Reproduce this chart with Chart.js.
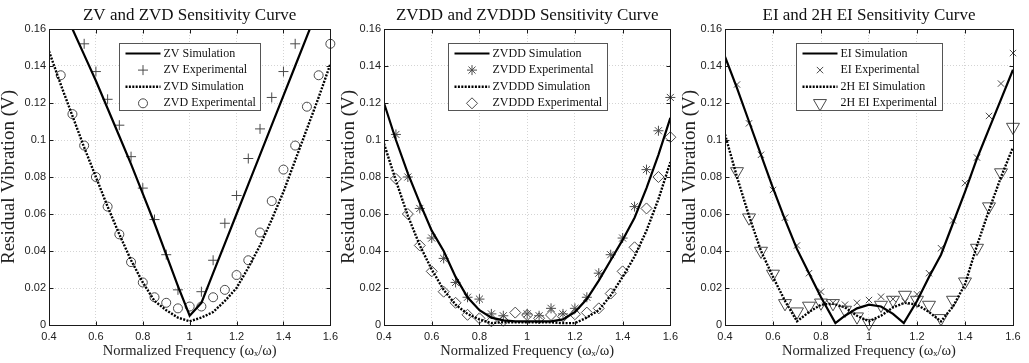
<!DOCTYPE html>
<html>
<head>
<meta charset="utf-8">
<title>Sensitivity Curves</title>
<script src="https://cdn.jsdelivr.net/npm/chart.js@4.4.0/dist/chart.umd.min.js"></script>
<style>
  html, body { margin: 0; padding: 0; background: #fff; }
  #wrap { position: relative; width: 1029px; height: 363px; overflow: hidden; }
  #wrap canvas { position: absolute; top: 0; }
</style>
</head>
<body>
<div id="wrap">
  <canvas id="c1" width="343" height="363" style="left:0px"></canvas>
  <canvas id="c2" width="343" height="363" style="left:340px"></canvas>
  <canvas id="c3" width="348" height="363" style="left:681px"></canvas>
</div>
<script>
// normalized frequency samples (omega_x / omega)
const freq = [0.40, 0.45, 0.50, 0.55, 0.60, 0.65, 0.70, 0.75, 0.80, 0.85, 0.90, 0.95, 1.00,
              1.05, 1.10, 1.15, 1.20, 1.25, 1.30, 1.35, 1.40, 1.45, 1.50, 1.55, 1.60];
// EI simulation has its two zero crossings off the 0.05 grid
const freqEI = [0.40, 0.45, 0.50, 0.55, 0.60, 0.65, 0.70, 0.75, 0.80, 0.86, 0.90, 0.95, 1.00,
                1.05, 1.10, 1.145, 1.20, 1.25, 1.30, 1.35, 1.40, 1.45, 1.50, 1.55, 1.60];

const xTicks = [0.4, 0.6, 0.8, 1.0, 1.2, 1.4, 1.6];
const yTicks = [0, 0.02, 0.04, 0.06, 0.08, 0.10, 0.12, 0.14, 0.16];

// panel 1 - ZV / ZVD
const zvSim  = [0.188, 0.174, 0.160, 0.146, 0.132, 0.117, 0.102, 0.087, 0.071, 0.055, 0.038, 0.021, 0.005,
                0.012, 0.028, 0.044, 0.060, 0.076, 0.092, 0.108, 0.124, 0.140, 0.156, 0.172, 0.188];
const zvExp  = [null, null, null, 0.152, 0.137, 0.122, 0.108, 0.091, 0.074, 0.057, 0.038, 0.019, null,
                0.018, 0.035, 0.055, 0.070, 0.090, 0.106, 0.123, 0.137, 0.152, null, null, null];
const zvdSim = [0.148, 0.130, 0.113, 0.096, 0.080, 0.064, 0.049, 0.035, 0.023, 0.013, 0.008, 0.004, 0.002,
                0.004, 0.007, 0.013, 0.020, 0.031, 0.043, 0.057, 0.072, 0.089, 0.106, 0.123, 0.141];
const zvdExp = [null, 0.135, 0.114, 0.097, 0.080, 0.064, 0.049, 0.034, 0.023, 0.015, 0.012, 0.009, 0.010,
                0.010, 0.015, 0.019, 0.027, 0.035, 0.050, 0.067, 0.084, 0.097, 0.118, 0.135, 0.152];

// panel 2 - ZVDD / ZVDDD
const zvddSim  = [0.120, 0.100, 0.082, 0.066, 0.051, 0.040, 0.026, 0.015, 0.008, 0.004, 0.0025, 0.002, 0.002,
                  0.002, 0.002, 0.003, 0.007, 0.014, 0.024, 0.035, 0.046, 0.058, 0.074, 0.092, 0.112];
const zvddExp  = [null, 0.103, 0.080, 0.063, 0.047, 0.036, 0.023, 0.015, 0.014, 0.006, 0.005, null, 0.006,
                  0.005, 0.009, 0.006, 0.009, 0.015, 0.028, 0.038, 0.047, 0.064, 0.084, 0.105, 0.123];
const zvdddSim = [0.098, 0.078, 0.059, 0.043, 0.030, 0.019, 0.011, 0.006, 0.003, 0.001, 0.0015, 0.0015, 0.0015,
                  0.0015, 0.0015, 0.001, 0.001, 0.004, 0.008, 0.016, 0.026, 0.037, 0.051, 0.068, 0.088];
const zvdddExp = [null, 0.079, 0.060, 0.043, 0.029, 0.018, 0.012, 0.0055, 0.0036, 0.002, 0.0023, 0.0067, 0.0054,
                  0.0036, 0.0054, 0.0045, 0.0058, 0.0067, 0.009, 0.017, 0.029, 0.042, 0.063, 0.080, 0.1015];

// panel 3 - EI / 2H EI
const eiSim   = [0.145, 0.128, 0.110, 0.092, 0.074, 0.057, 0.041, 0.028, 0.015, 0.001, 0.005, 0.009, 0.011,
                 0.010, 0.006, 0.001, 0.013, 0.026, 0.038, 0.055, 0.072, 0.090, 0.106, 0.122, 0.138];
const eiExp   = [null, 0.130, 0.109, 0.092, 0.073, 0.058, 0.043, 0.028, 0.018, 0.012, 0.011, 0.012, 0.0135,
                 0.0153, 0.014, 0.0126, 0.0166, 0.028, 0.0415, 0.0565, 0.0767, 0.0905, 0.113, 0.1305, 0.147];
const ei2hSim = [0.103, 0.080, 0.059, 0.040, 0.026, 0.013, 0.002, 0.007, 0.011, 0.0115, 0.0095, 0.005, 0.002,
                 0.005, 0.0095, 0.012, 0.011, 0.007, 0.002, 0.010, 0.022, 0.043, 0.062, 0.080, 0.096];
const ei2hExp = [null, 0.083, 0.058, 0.040, 0.0276, 0.0117, 0.0072, 0.0103, 0.012, 0.0117, 0.0081, 0.0045, 0.001,
                 0.0108, 0.0135, 0.0162, 0.0135, 0.0108, 0.0036, 0.0135, 0.0234, 0.0416, 0.064, 0.0824, 0.107];

const SERIF = '"Liberation Serif", "Times New Roman", serif';
const SANS = '"Liberation Sans", Arial, sans-serif';
const MARK = '#4a4a4a';

function pts(xs, ys) {
  return xs.map(function(x, i) { return {x: x, y: ys[i]}; }).filter(function(p) { return p.y !== null; });
}

function simLine(label, xs, ys, dotted) {
  return {
    label: label,
    data: pts(xs, ys),
    showLine: true,
    pointRadius: 0,
    borderColor: '#000',
    borderWidth: dotted ? 2.4 : 2.2,
    borderDash: dotted ? [2, 1.4] : [],
    tension: 0
  };
}

function expMarks(label, xs, ys, style, radius, rotation) {
  return {
    label: label,
    data: pts(xs, ys),
    showLine: false,
    pointStyle: style,
    pointRadius: radius,
    pointRotation: rotation || 0,
    pointBorderColor: MARK,
    pointBackgroundColor: 'rgba(0,0,0,0)',
    pointBorderWidth: 1,
    borderColor: MARK,
    backgroundColor: 'rgba(0,0,0,0)',
    clip: false
  };
}

// black axes box with inward tick marks, like the matlab figure
const axesBox = {
  id: 'axesBox',
  afterDatasetsDraw: function(chart) {
    var ctx = chart.ctx, ca = chart.chartArea;
    var xs = chart.scales.x, ys = chart.scales.y;
    var L = Math.round(ca.left) + 0.5, R = Math.round(ca.right) + 0.5;
    var T = Math.round(ca.top) + 0.5, B = Math.round(ca.bottom) + 0.5;
    ctx.save();
    ctx.strokeStyle = '#1a1a1a';
    ctx.lineWidth = 1;
    ctx.beginPath();
    xTicks.forEach(function(v) {
      var px = Math.round(xs.getPixelForValue(v)) + 0.5;
      ctx.moveTo(px, B); ctx.lineTo(px, B - 4);
      ctx.moveTo(px, T); ctx.lineTo(px, T + 4);
    });
    yTicks.forEach(function(v) {
      var py = Math.round(ys.getPixelForValue(v)) + 0.5;
      ctx.moveTo(L, py); ctx.lineTo(L + 4, py);
      ctx.moveTo(R, py); ctx.lineTo(R - 4, py);
    });
    ctx.stroke();
    ctx.strokeRect(L, T, R - L, B - T);
    ctx.restore();
  }
};

// boxed legend inside the top of the plot area
const boxLegend = {
  id: 'boxLegend',
  afterDraw: function(chart) {
    var ctx = chart.ctx, ca = chart.chartArea;
    var sets = chart.data.datasets;
    ctx.save();
    ctx.font = '12px ' + SERIF;
    var textW = Math.max.apply(null, sets.map(function(d) { return ctx.measureText(d.label).width; }));
    var padL = 6, sample = 35, gap = 3, padR = 5, rowH = 16.6;
    var w = Math.round(padL + sample + gap + textW + padR);
    var h = 67;
    var x0 = Math.round((ca.left + ca.right) / 2 - w / 2) + 0.5;
    var y0 = Math.round(ca.top + 14) + 0.5;
    ctx.fillStyle = '#fff';
    ctx.fillRect(x0, y0, w, h);
    ctx.strokeStyle = '#555';
    ctx.lineWidth = 1;
    ctx.strokeRect(x0, y0, w, h);
    sets.forEach(function(d, i) {
      var cy = y0 + 10 + i * rowH;
      var sx = x0 + padL;
      ctx.save();
      if (d.showLine) {
        ctx.strokeStyle = d.borderColor;
        ctx.lineWidth = d.borderWidth;
        ctx.setLineDash(d.borderDash);
        ctx.beginPath();
        ctx.moveTo(sx, cy);
        ctx.lineTo(sx + sample, cy);
        ctx.stroke();
      } else {
        ctx.strokeStyle = d.pointBorderColor;
        ctx.fillStyle = 'rgba(0,0,0,0)';
        ctx.lineWidth = d.pointBorderWidth;
        Chart.helpers.drawPoint(ctx, {
          pointStyle: d.pointStyle, radius: d.pointRadius,
          rotation: d.pointRotation, borderWidth: d.pointBorderWidth
        }, sx + sample / 2, cy);
      }
      ctx.restore();
      ctx.fillStyle = '#111';
      ctx.textBaseline = 'middle';
      ctx.textAlign = 'left';
      ctx.fillText(d.label, sx + sample + gap, cy);
    });
    ctx.restore();
  }
};

function makePanel(id, title, datasets, yAxisWidth, rightPad) {
  return new Chart(document.getElementById(id), {
    type: 'scatter',
    data: { datasets: datasets },
    options: {
      responsive: false,
      animation: false,
      events: [],
      layout: { padding: { left: 0, right: rightPad, top: 0, bottom: 0 } },
      plugins: {
        legend: { display: false },
        tooltip: { enabled: false },
        title: {
          display: true,
          text: title,
          fullSize: false,
          color: '#111',
          font: { family: SERIF, size: 17, weight: 'normal' },
          padding: { top: 5, bottom: 3.6 }
        }
      },
      scales: {
        x: {
          type: 'linear',
          min: 0.4,
          max: 1.6,
          afterBuildTicks: function(scale) { scale.ticks = xTicks.map(function(v) { return {value: v}; }); },
          afterFit: function(scale) { scale.height = 38; },
          ticks: {
            padding: 5,
            color: '#222',
            font: { family: SANS, size: 11 },
            maxRotation: 0,
            callback: function(v) { return String(+v.toFixed(2)); }
          },
          grid: { color: '#d4d4d4', lineWidth: 1, drawTicks: false },
          border: { display: false, dash: [1, 2] },
          title: {
            display: true,
            text: 'Normalized Frequency (ωₓ/ω)',
            color: '#222',
            font: { family: SERIF, size: 14.5 },
            padding: { top: 0, bottom: 3 }
          }
        },
        y: {
          type: 'linear',
          min: 0,
          max: 0.16,
          afterBuildTicks: function(scale) { scale.ticks = yTicks.map(function(v) { return {value: v}; }); },
          afterFit: function(scale) { scale.width = yAxisWidth; },
          ticks: {
            padding: 3,
            color: '#222',
            font: { family: SANS, size: 11 },
            callback: function(v) { return String(+v.toFixed(2)); }
          },
          grid: { color: '#d4d4d4', lineWidth: 1, drawTicks: false },
          border: { display: false, dash: [1, 2] },
          title: {
            display: true,
            text: 'Residual Vibration (V)',
            color: '#222',
            font: { family: SERIF, size: 19, lineHeight: 1.0 },
            padding: { top: 0, bottom: 0 }
          }
        }
      }
    },
    plugins: [axesBox, boxLegend]
  });
}

makePanel('c1', 'ZV and ZVD Sensitivity Curve', [
  simLine('ZV Simulation', freq, zvSim, false),
  expMarks('ZV Experimental', freq, zvExp, 'cross', 5),
  simLine('ZVD Simulation', freq, zvdSim, true),
  expMarks('ZVD Experimental', freq, zvdExp, 'circle', 4.5)
], 49, 9);

makePanel('c2', 'ZVDD and ZVDDD Sensitivity Curve', [
  simLine('ZVDD Simulation', freq, zvddSim, false),
  expMarks('ZVDD Experimental', freq, zvddExp, 'star', 5),
  simLine('ZVDDD Simulation', freq, zvdddSim, true),
  expMarks('ZVDDD Experimental', freq, zvdddExp, 'rectRot', 5.5)
], 44, 10);

makePanel('c3', 'EI and 2H EI Sensitivity Curve', [
  simLine('EI Simulation', freqEI, eiSim, false),
  expMarks('EI Experimental', freq, eiExp, 'crossRot', 4.5),
  simLine('2H EI Simulation', freq, ei2hSim, true),
  expMarks('2H EI Experimental', freq, ei2hExp, 'triangle', 7.5, 180)
], 44, 16);
</script>
</body>
</html>
